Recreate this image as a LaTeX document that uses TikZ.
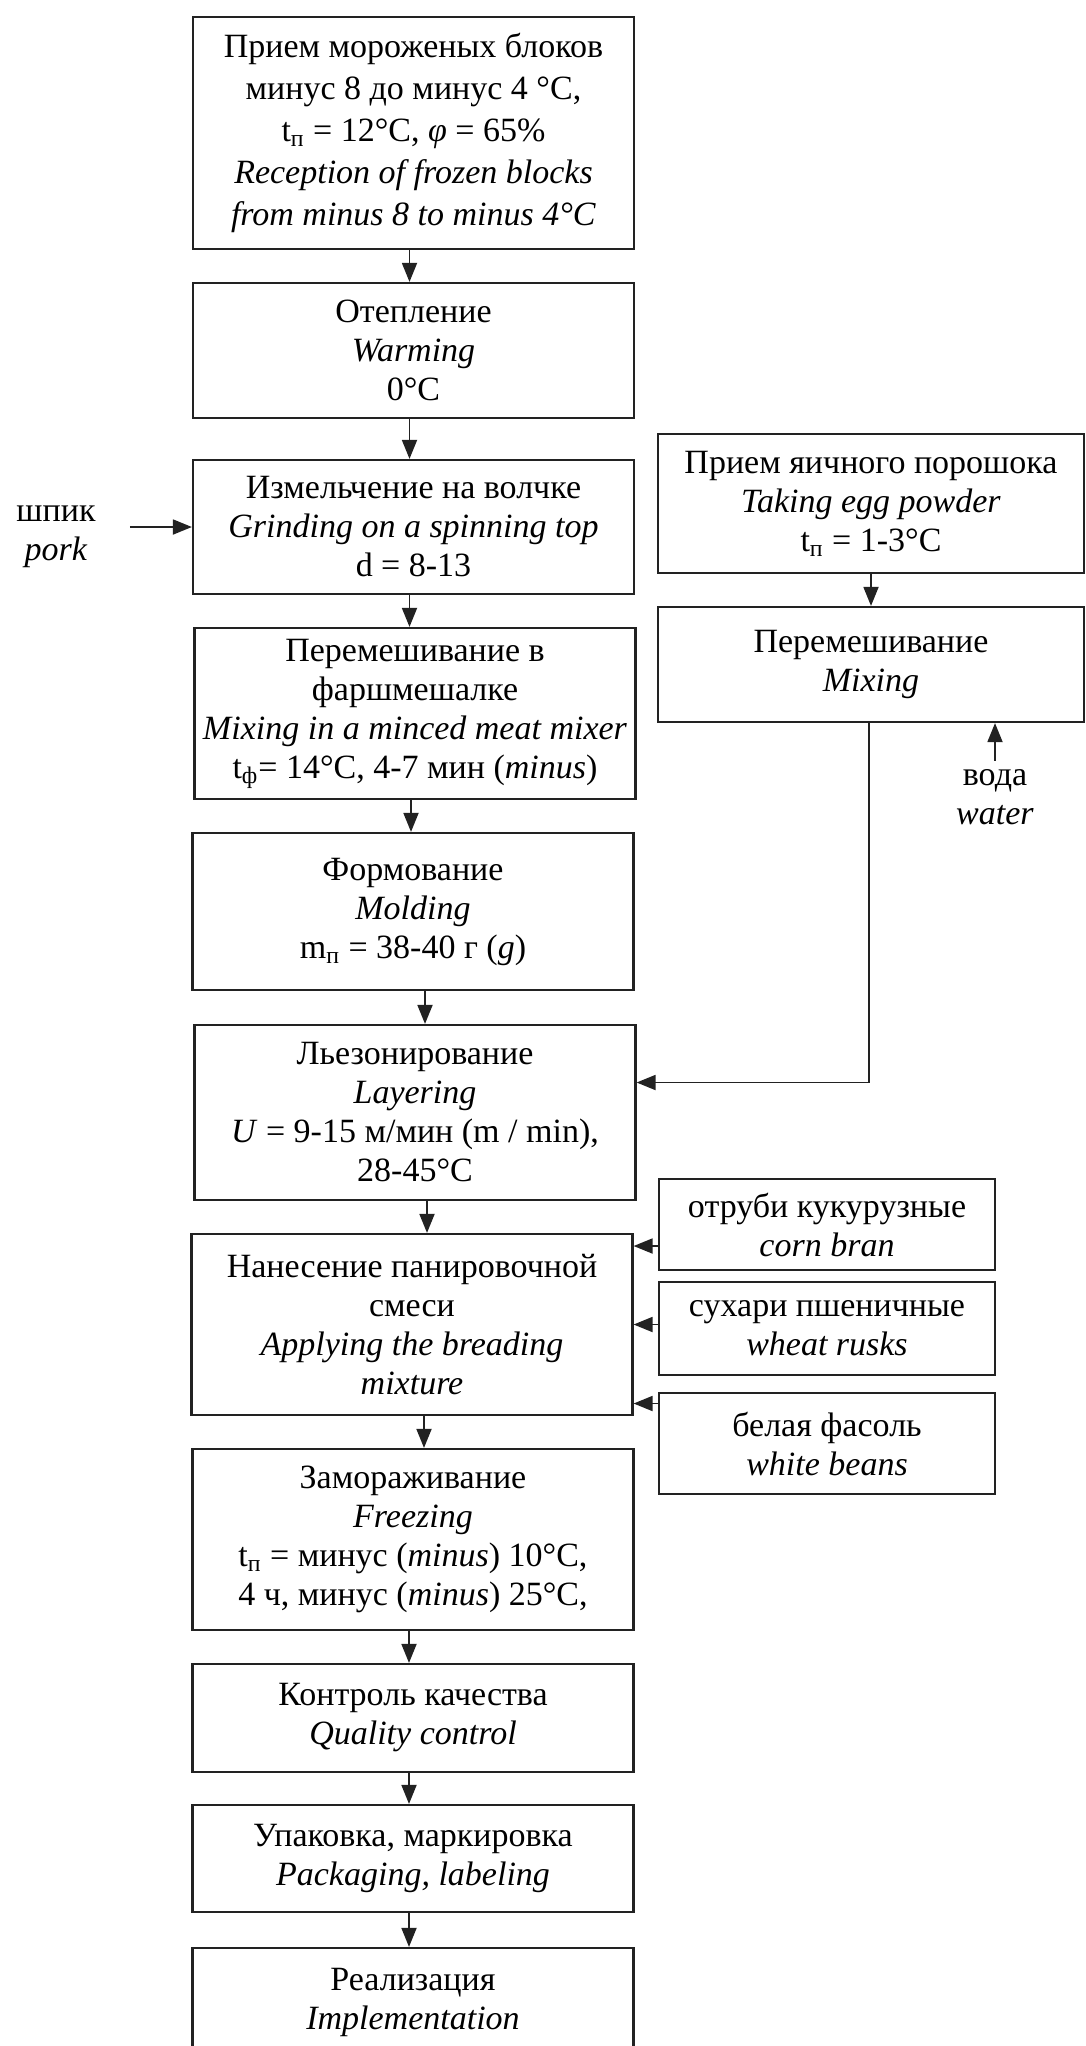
\documentclass[tikz,border=0pt]{standalone}
\usepackage{fontspec}
\setmainfont{Liberation Serif}
\usepackage{tikz}
\usetikzlibrary{
  arrows.meta,
}
\definecolor{linegray}{HTML}{222222}

\begin{document}
\begin{tikzpicture}[
    x=0.5pt, y=-0.5pt,
    M/.style={rectangle, draw=linegray, line width=1.1pt, minimum width=220.5pt, inner sep=0pt, align=center, font=\fontsize{17pt}{19.5pt}\selectfont},
    S/.style={rectangle, draw=linegray, line width=1.1pt, minimum width=168pt, inner sep=0pt, align=center, font=\fontsize{17pt}{19.5pt}\selectfont},
    T/.style={inner sep=0pt, align=center, font=\fontsize{17pt}{19.5pt}\selectfont},
    A/.style={-{Triangle[length=9.5pt, width=7.5pt]}, draw=linegray, line width=0.9pt},
  ]
  \useasboundingbox (0,0) rectangle (1086,2046);
  \clip (0,0) rectangle (1086,2046);

  \node[M, minimum height=116pt, font=\fontsize{17pt}{21pt}\selectfont] (b1) at (413.5,133)
    {Прием мороженых блоков\\минус 8 до минус 4 °C,\\t\textsubscript{п} = 12°C, \textit{φ} = 65\%\\\textit{Reception of frozen blocks}\\\textit{from minus 8 to minus 4°C}};
  \node[M, minimum height=67.5pt] (b2) at (413.5,350.5) {Отепление\\\textit{Warming}\\0°C};
  \node[M, minimum height=67pt] (b3) at (413.5,527) {Измельчение на волчке\\\textit{Grinding on a spinning top}\\d = 8-13};
  \node[M, minimum height=85.5pt] (b4) at (415,713.5)
    {Перемешивание в\\фаршмешалке\\\textit{Mixing in a minced meat mixer}\\t\textsubscript{ф}= 14°C, 4-7 мин (\textit{minus})};
  \node[M, minimum height=78.5pt] (b5) at (413,911.5) {Формование\\\textit{Molding}\\m\textsubscript{п} = 38-40 г (\textit{g})};
  \node[M, minimum height=87.5pt] (b6) at (415,1112.5)
    {Льезонирование\\\textit{Layering}\\\textit{U} = 9-15 м/мин (m / min),\\28-45°C};
  \node[M, minimum height=90.5pt] (b7) at (412,1324.5)
    {Нанесение панировочной\\смеси\\\textit{Applying the breading}\\\textit{mixture}};
  \node[M, minimum height=90.5pt] (b8) at (413,1539.5)
    {Замораживание\\\textit{Freezing}\\t\textsubscript{п} = минус (\textit{minus}) 10°C,\\4 ч, минус (\textit{minus}) 25°C,};
  \node[M, minimum height=54pt] (b9) at (413,1718) {Контроль качества\\\textit{Quality control}};
  \node[M, minimum height=53.5pt] (b10) at (413,1858.5) {Упаковка, маркировка\\\textit{Packaging, labeling}};
  \node[M, minimum height=54pt] (b11) at (413,2002) {Реализация\\\textit{Implementation}};

  \node[S, minimum width=213pt, minimum height=69.5pt] (egg) at (871,503.5)
    {Прием яичного порошока\\\textit{Taking egg powder}\\t\textsubscript{п} = 1-3°C};
  \node[S, minimum width=213pt, minimum height=57.5pt] (mix) at (871,664.5) {Перемешивание\\\textit{Mixing}};
  \node[S, minimum height=45.5pt] (corn) at (827,1224.5) {отруби кукурузные\\\textit{corn bran}};
  \node[S, minimum height=46.5pt] (wheat) at (827,1328.5) {сухари пшеничные\\\textit{wheat rusks}};
  \node[S, minimum height=50.5pt] (beans) at (827,1443.5) {белая фасоль\\\textit{white beans}};

  \node[T] (sp) at (56,537) {шпик\\\textit{pork}};
  \node[T] (wt) at (995,797) {вода\\\textit{water}};

  \foreach \a/\b/\s in {b1/b2/-2, b2/b3/-2, b3/b4/-2, b4/b5/-2, b5/b6/6, b6/b7/6, b7/b8/6, b8/b9/-2, b9/b10/-2, b10/b11/-2}
    \draw[A] ([xshift=\s pt]\a.south) -- ([xshift=\s pt]\a.south |- \b.north);

  \draw[A, shorten <=17pt] (sp.east |- b3.west) -- (b3.west);
  \draw[A] (egg) -- (mix);
  \draw[A, shorten <=4pt] (wt.north) -- (wt.north |- mix.south);
  \draw[A] ([xshift=-1pt]mix.south) |- ([yshift=15pt]b6.east);

  \draw[A] ([yshift=-10.75pt]corn.west) -- ([yshift=-10.75pt]corn.west -| b7.east);
  \draw[A] ([yshift=2pt]wheat.west) -- ([yshift=2pt]wheat.west -| b7.east);
  \draw[A] ([yshift=20pt]beans.west) -- ([yshift=20pt]beans.west -| b7.east);
\end{tikzpicture}
\end{document}
